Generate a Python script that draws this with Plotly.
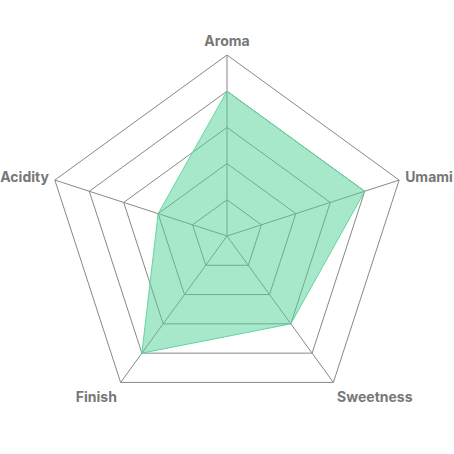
import plotly.graph_objects as go

categories = ['Aroma', 'Umami', 'Sweetness', 'Finish', 'Acidity']
scores = [4, 4, 3, 4, 2]

fig = go.Figure()
fig.add_trace(go.Scatterpolar(
    r=scores + scores[:1],
    theta=categories + categories[:1],
    fill='toself',
    fillcolor='rgba(80,210,150,0.5)',
    line=dict(color='#5fd6a0', width=1),
    mode='lines',
    showlegend=False,
))

fig.update_layout(
    width=454, height=454,
    margin=dict(l=46, r=46, t=55, b=37),
    paper_bgcolor='white',
    polar=dict(
        bgcolor='white',
        gridshape='linear',
        radialaxis=dict(range=[0, 5], dtick=1, showticklabels=False, ticks='',
                        showline=False, gridcolor='#888888', gridwidth=1),
        angularaxis=dict(rotation=90, direction='clockwise',
                         ticks='outside', ticklen=3, tickcolor='rgba(0,0,0,0)',
                         linecolor='#888888', gridcolor='#888888',
                         tickfont=dict(family='Inter', size=14, color='#777777', weight='bold')),
    ),
)

# page body margin would push the chart off by 8px and clip the side labels
fig.write_html("out.html", config={'displayModeBar': False},
               post_script="document.body.style.margin='0';")
